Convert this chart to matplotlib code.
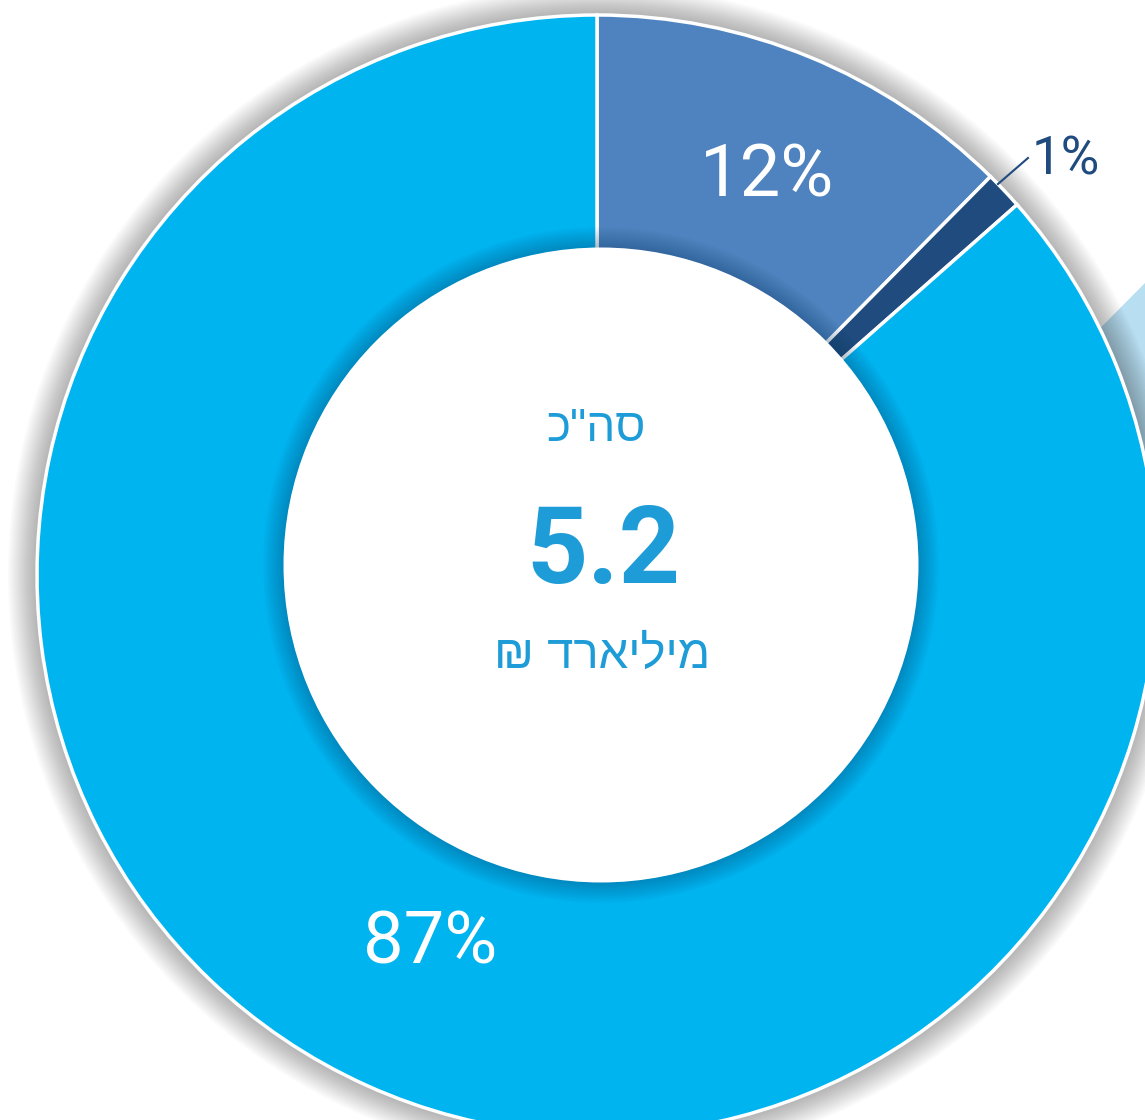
import matplotlib
matplotlib.use("Agg")
import matplotlib.pyplot as plt
from matplotlib.patches import Circle, Wedge, Polygon

# data
shares = [12.4, 1.1, 86.5]
labels = ["12%", "1%", "87%"]
colors = ["#4f83bf", "#1f4b7e", "#00b4f0"]
total_value = "5.2"
title_top = "סה\"כ"
unit_text = "מיליארד ₪"

W, H = 1145, 1120
fig = plt.figure(figsize=(W / 100, H / 100), dpi=100)
ax = fig.add_axes([0, 0, 1, 1])

cx, cy = 597, H - 575
R_out = 560
hx, hy, R_in = 601, H - 565, 317

# light translucent highlight at right (behind donut)
ax.add_patch(Polygon([(1145, H - 283), (900, H - 530), (1145, H - 640)],
                     closed=True, facecolor="#a6d6ee", alpha=0.8, lw=0, zorder=0))

# outer soft shadow
for k in range(16):
    ax.add_patch(Circle((cx, cy), R_out + 2 + k * 1.8, facecolor="#000000",
                        alpha=0.018, lw=0, zorder=0.5))

wedges, _ = ax.pie(shares, colors=colors, startangle=90, counterclock=False,
                   center=(cx, cy), radius=R_out,
                   wedgeprops=dict(width=R_out - 200, edgecolor="white", linewidth=2.5))
for w in wedges:
    w.set_zorder(1)

# inner shadow along the hole edge
for k in range(10):
    ax.add_patch(Wedge((hx, hy), R_in + 1 + k * 2.2, 0, 360, width=1 + k * 2.2,
                       facecolor="#00305a", alpha=0.035, lw=0, zorder=1.5))
ax.add_patch(Circle((hx, hy), R_in + 0.5, facecolor="white", lw=0, zorder=1.6))

# percentage labels
ax.text(767, H - 177, labels[0], color="white", fontsize=52, family="Roboto",
        ha="center", va="center", zorder=3)
ax.text(430, H - 944, labels[2], color="white", fontsize=52, family="Roboto",
        ha="center", va="center", zorder=3)
ax.text(1066, H - 160, labels[1], color="#1f4b7e", fontsize=38, family="Roboto",
        ha="center", va="center", zorder=3)
ax.plot([998, 1028], [H - 184, H - 158], color="#1f4b7e", lw=1.5, zorder=3)

# centre texts (visual order for RTL)
heb = ["Liberation Sans", "DejaVu Sans"]
ax.text(596, H - 429, title_top[::-1], color="#1e9cd7", fontsize=33, family=heb,
        ha="center", va="center", zorder=3)
ax.text(603, H - 553, total_value, color="#1e9cd7", fontsize=77, family="Roboto",
        fontweight="bold", ha="center", va="center", zorder=3)
ax.text(602, H - 656, unit_text[::-1], color="#1e9cd7", fontsize=34, family=heb,
        ha="center", va="center", zorder=3)

ax.set_xlim(0, W)
ax.set_ylim(0, H)
ax.set_aspect("auto")
ax.axis("off")
fig.savefig("out.png", dpi=100, facecolor="white")
